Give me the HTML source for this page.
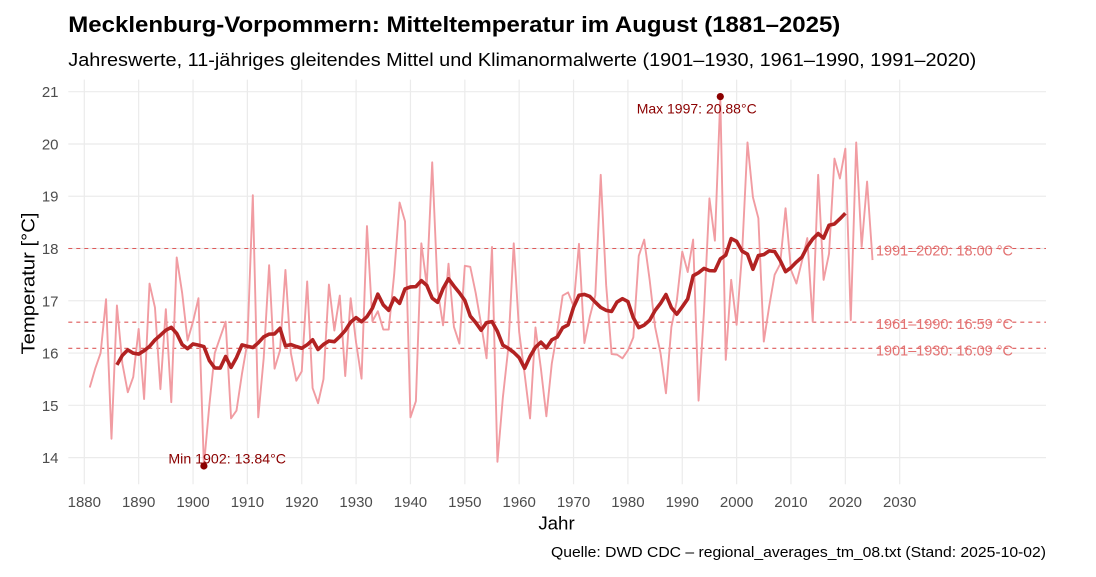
<!DOCTYPE html>
<html>
<head>
<meta charset="utf-8">
<style>
html,body{margin:0;padding:0;background:#fff;}
svg{display:block;font-family:"Liberation Sans",Arial,sans-serif;}
</style>
</head>
<body>
<svg width="1096" height="577" viewBox="0 0 1096 577" xmlns="http://www.w3.org/2000/svg">
<rect width="1096" height="577" fill="#fff"/>
<!-- grid -->
<g stroke="#ebebeb" stroke-width="1.2" fill="none">
<line x1="68.3" x2="1046" y1="91.7" y2="91.7"/>
<line x1="68.3" x2="1046" y1="143.97" y2="143.97"/>
<line x1="68.3" x2="1046" y1="196.24" y2="196.24"/>
<line x1="68.3" x2="1046" y1="248.51" y2="248.51"/>
<line x1="68.3" x2="1046" y1="300.78" y2="300.78"/>
<line x1="68.3" x2="1046" y1="353.05" y2="353.05"/>
<line x1="68.3" x2="1046" y1="405.32" y2="405.32"/>
<line x1="68.3" x2="1046" y1="457.59" y2="457.59"/>
<line y1="79.6" y2="484.3" x1="84.3" x2="84.3"/>
<line y1="79.6" y2="484.3" x1="138.66" x2="138.66"/>
<line y1="79.6" y2="484.3" x1="193.02" x2="193.02"/>
<line y1="79.6" y2="484.3" x1="247.38" x2="247.38"/>
<line y1="79.6" y2="484.3" x1="301.74" x2="301.74"/>
<line y1="79.6" y2="484.3" x1="356.1" x2="356.1"/>
<line y1="79.6" y2="484.3" x1="410.46" x2="410.46"/>
<line y1="79.6" y2="484.3" x1="464.82" x2="464.82"/>
<line y1="79.6" y2="484.3" x1="519.18" x2="519.18"/>
<line y1="79.6" y2="484.3" x1="573.54" x2="573.54"/>
<line y1="79.6" y2="484.3" x1="627.9" x2="627.9"/>
<line y1="79.6" y2="484.3" x1="682.26" x2="682.26"/>
<line y1="79.6" y2="484.3" x1="736.62" x2="736.62"/>
<line y1="79.6" y2="484.3" x1="790.98" x2="790.98"/>
<line y1="79.6" y2="484.3" x1="845.34" x2="845.34"/>
<line y1="79.6" y2="484.3" x1="899.7" x2="899.7"/>
</g>
<!-- normals -->
<g stroke="#de5a5a" stroke-width="1.1" stroke-dasharray="4 4" fill="none">
<line x1="68.3" x2="1046" y1="248.51" y2="248.51"/>
<line x1="68.3" x2="1046" y1="322.21" y2="322.21"/>
<line x1="68.3" x2="1046" y1="348.35" y2="348.35"/>
</g>
<!-- annual series -->
<polyline id="raw" transform="matrix(5.436 0 0 -52.27 84.3 1189.37)" fill="none" stroke="#f19ca2" stroke-width="1.9" stroke-linejoin="round" vector-effect="non-scaling-stroke"
points="1,15.34 2,15.70 3,16.00 4,17.03 5,14.36 6,16.91 7,15.80 8,15.25 9,15.54 10,16.46 11,15.12 12,17.33 13,16.87 14,15.31 15,16.84 16,15.06 17,17.83 18,17.15 19,16.24 20,16.60 21,17.05 22,13.84 23,15.00 24,16.00 25,16.30 26,16.60 27,14.75 28,14.90 29,15.60 30,16.20 31,19.02 32,14.77 33,15.90 34,17.68 35,15.70 36,16.05 37,17.59 38,16.00 39,15.47 40,15.65 41,17.37 42,15.33 43,15.04 44,15.50 45,17.31 46,16.43 47,17.10 48,15.56 49,17.05 50,16.20 51,15.51 52,18.43 53,16.61 54,16.80 55,16.45 56,16.45 57,17.50 58,18.88 59,18.52 60,14.77 61,15.08 62,18.10 63,17.30 64,19.65 65,17.20 66,16.53 67,17.71 68,16.50 69,16.18 70,17.67 71,17.65 72,17.15 73,16.55 74,15.90 75,18.03 76,13.92 77,15.15 78,16.10 79,18.10 80,16.40 81,15.60 82,14.75 83,16.49 84,15.70 85,14.79 86,15.80 87,16.40 88,17.10 89,17.16 90,16.90 91,18.09 92,16.19 93,16.70 94,17.10 95,19.41 96,17.30 97,15.98 98,15.97 99,15.90 100,16.05 101,16.30 102,17.86 103,18.17 104,17.40 105,16.50 106,16.00 107,15.23 108,16.50 109,17.00 110,17.94 111,17.55 112,18.17 113,15.09 114,16.80 115,18.96 116,18.15 117,20.88 118,15.87 119,17.40 120,16.54 121,17.90 122,20.03 123,18.98 124,18.58 125,16.22 126,16.90 127,17.50 128,17.70 129,18.77 130,17.59 131,17.33 132,17.75 133,18.20 134,16.60 135,19.41 136,17.40 137,17.90 138,19.72 139,19.34 140,19.91 141,16.63 142,20.03 143,18.03 144,19.28 145,17.78"/>
<!-- moving average -->
<polyline id="ma" transform="matrix(5.436 0 0 -52.27 84.3 1189.37)" fill="none" stroke="#b22222" stroke-width="3.6" stroke-linejoin="round" stroke-linecap="butt" vector-effect="non-scaling-stroke" points=""/>
<!-- normal labels -->
<g font-size="14.5" fill="#e37272">
<text x="876" y="255.5" textLength="137" lengthAdjust="spacingAndGlyphs">1991–2020: 18.00 °C</text>
<text x="876" y="329.2" textLength="137" lengthAdjust="spacingAndGlyphs">1961–1990: 16.59 °C</text>
<text x="876" y="355.4" textLength="137" lengthAdjust="spacingAndGlyphs">1901–1930: 16.09 °C</text>
</g>
<!-- extremes -->
<circle cx="203.9" cy="466" r="3.6" fill="#8b0000"/>
<circle cx="720.3" cy="96.6" r="3.6" fill="#8b0000"/>
<g font-size="14" fill="#8b0000" text-anchor="middle">
<text x="227.2" y="463.3" textLength="117.7" lengthAdjust="spacingAndGlyphs">Min 1902: 13.84°C</text>
<text x="696.7" y="113.3" textLength="120" lengthAdjust="spacingAndGlyphs">Max 1997: 20.88°C</text>
</g>
<!-- y tick labels -->
<g font-size="15" fill="#4d4d4d" text-anchor="end">
<text x="58.5" y="97.2">21</text>
<text x="58.5" y="149.5">20</text>
<text x="58.5" y="201.7">19</text>
<text x="58.5" y="254">18</text>
<text x="58.5" y="306.3">17</text>
<text x="58.5" y="358.5">16</text>
<text x="58.5" y="410.8">15</text>
<text x="58.5" y="463.1">14</text>
</g>
<!-- x tick labels -->
<g font-size="15" fill="#4d4d4d" text-anchor="middle">
<text x="84.3" y="507">1880</text>
<text x="138.66" y="507">1890</text>
<text x="193.02" y="507">1900</text>
<text x="247.38" y="507">1910</text>
<text x="301.74" y="507">1920</text>
<text x="356.1" y="507">1930</text>
<text x="410.46" y="507">1940</text>
<text x="464.82" y="507">1950</text>
<text x="519.18" y="507">1960</text>
<text x="573.54" y="507">1970</text>
<text x="627.9" y="507">1980</text>
<text x="682.26" y="507">1990</text>
<text x="736.62" y="507">2000</text>
<text x="790.98" y="507">2010</text>
<text x="845.34" y="507">2020</text>
<text x="899.7" y="507">2030</text>
</g>
<!-- axis titles -->
<text x="556.5" y="529.5" font-size="18.7" fill="#000" text-anchor="middle">Jahr</text>
<text transform="translate(34.5,283.5) rotate(-90)" font-size="18.7" fill="#000" text-anchor="middle" textLength="142" lengthAdjust="spacingAndGlyphs">Temperatur [°C]</text>
<!-- titles -->
<text x="68.3" y="32" font-size="22" font-weight="bold" fill="#000" textLength="772" lengthAdjust="spacingAndGlyphs">Mecklenburg-Vorpommern: Mitteltemperatur im August (1881–2025)</text>
<text x="68.3" y="66" font-size="18.5" fill="#000" textLength="908" lengthAdjust="spacingAndGlyphs">Jahreswerte, 11-jähriges gleitendes Mittel und Klimanormalwerte (1901–1930, 1961–1990, 1991–2020)</text>
<!-- caption -->
<text x="1046" y="557" font-size="14.9" fill="#000" text-anchor="end" textLength="495" lengthAdjust="spacingAndGlyphs">Quelle: DWD CDC – regional_averages_tm_08.txt (Stand: 2025-10-02)</text>
</svg>
<script>
(function(){
  var raw=document.getElementById('raw').getAttribute('points').trim().split(/\s+/).map(function(p){return parseFloat(p.split(',')[1]);});
  var pts=[];
  for(var i=5;i<raw.length-5;i++){
    var s=0;for(var k=i-5;k<=i+5;k++)s+=raw[k];
    var yr=i+1; // t index
    if(yr+1880<=2020) pts.push(yr+','+(s/11).toFixed(3));
  }
  document.getElementById('ma').setAttribute('points',pts.join(' '));
})();
</script>
</body>
</html>
